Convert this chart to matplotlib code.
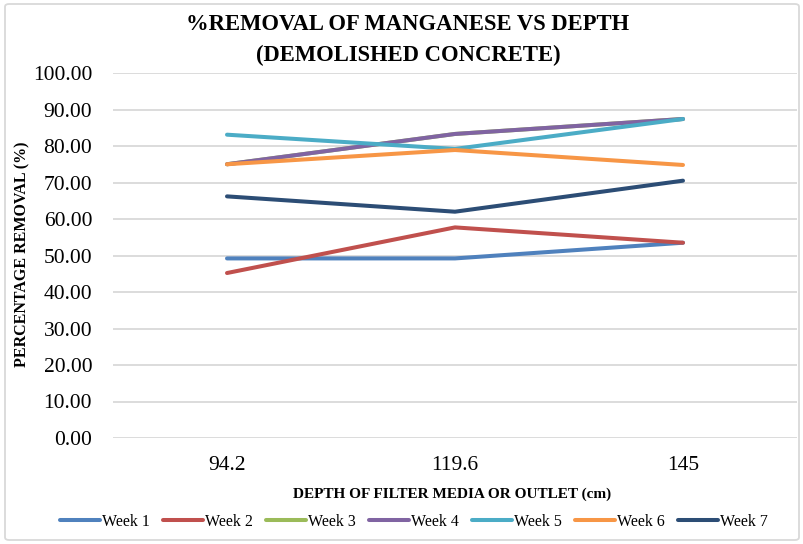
import matplotlib
matplotlib.use("Agg")
import matplotlib.pyplot as plt
from matplotlib.patches import FancyBboxPatch

depths = ["94.2", "119.6", "145"]
week1 = [49.2, 49.2, 53.5]
week2 = [45.2, 57.7, 53.5]
week3 = [75.0, 83.3, 87.4]
week4 = [75.0, 83.3, 87.4]
week5 = [83.1, 79.2, 87.4]
week6 = [75.0, 78.9, 74.8]
week7 = [66.2, 62.0, 70.5]
series_names = ["Week 1", "Week 2", "Week 3", "Week 4", "Week 5", "Week 6", "Week 7"]
colors = ["#4F81BD", "#C0504D", "#9BBB59", "#8064A2", "#4BACC6", "#F79646", "#2C4D75"]
yticks = [0, 10, 20, 30, 40, 50, 60, 70, 80, 90, 100]

plt.rcParams['font.family'] = ['Liberation Serif', 'DejaVu Serif']

fig = plt.figure(figsize=(8.04, 5.44), dpi=100)
ax = fig.add_axes([113/804, 1-438/544, (797-113)/804, (438-73)/544])

x = list(range(len(depths)))
for name, vals, c in zip(series_names, [week1, week2, week3, week4, week5, week6, week7], colors):
    ax.plot(x, vals, color=c, lw=2.9, label=name, solid_capstyle='round')

ax.set_xlim(-0.5, 2.5)
ax.set_ylim(0, 100)
ax.set_yticks(yticks)
ax.set_yticklabels([f"{v:.2f}" for v in yticks], fontsize=15.5)
ax.set_xticks(x)
ax.set_xticklabels(depths, fontsize=15.5)
ax.tick_params(axis='x', length=0, pad=13)
ax.tick_params(axis='y', length=0, pad=15)
for s in ax.spines.values():
    s.set_visible(False)
ax.grid(axis='y', color='#D9D9D9', lw=1.3)
ax.set_axisbelow(True)

fig.text(408/804, 1-25/544, "%REMOVAL OF MANGANESE VS DEPTH", ha='center', va='center',
         fontsize=16.3, fontweight='bold')
fig.text(408/804, 1-55/544, "(DEMOLISHED CONCRETE)", ha='center', va='center',
         fontsize=16.3, fontweight='bold')
fig.text(452/804, 1-494/544, "DEPTH OF FILTER MEDIA OR OUTLET (cm)", ha='center', va='center',
         fontsize=11, fontweight='bold')
fig.text(22/804, 1-254/544, "PERCENTAGE REMOVAL (%)", ha='center', va='center',
         fontsize=11.5, fontweight='bold', rotation=90)

leg = fig.legend(loc='center', bbox_to_anchor=(414/804, 1-522/544), ncol=7, frameon=False,
                 fontsize=11.5, handlelength=2.5, handletextpad=0.1, columnspacing=0.85)

border = FancyBboxPatch((5/804, 4/544), 794/804, 536/544, boxstyle="round,pad=0,rounding_size=0.005",
                        transform=fig.transFigure, fill=False, edgecolor='#D9D9D9', lw=1.3)
fig.patches.append(border)

fig.savefig("out.png", dpi=100)
